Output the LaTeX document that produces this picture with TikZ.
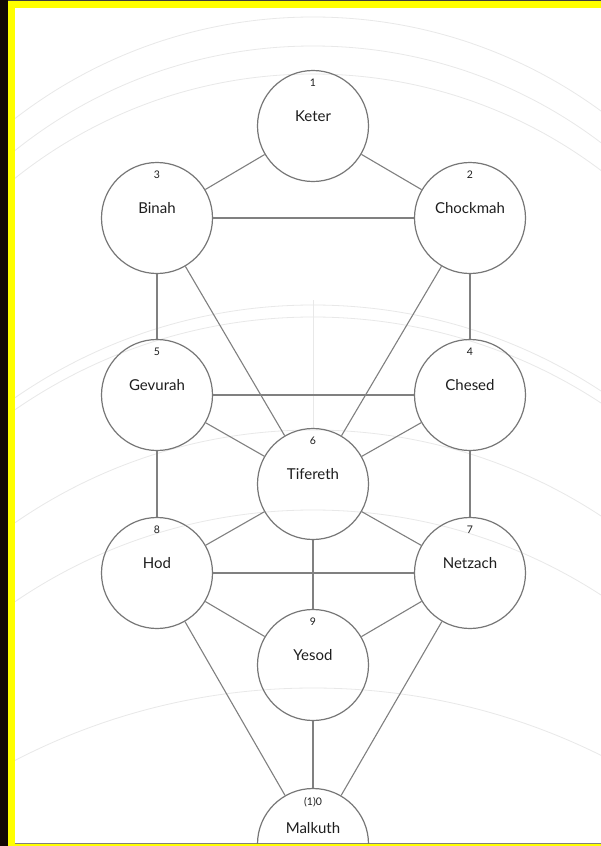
\documentclass[tikz,border=0pt]{standalone}
\usepackage{fontspec}
\setmainfont{Lato}
\definecolor{circ}{HTML}{777777}
\definecolor{edge}{HTML}{808080}
\definecolor{ink}{HTML}{1E1E1E}
\definecolor{frameyellow}{HTML}{FFFF00}
\definecolor{darkedge}{HTML}{120805}
\begin{document}
\begin{tikzpicture}[x=1pt,y=-1pt,
  sef/.style={circle,draw=circ,line width=1.2pt,minimum size=111pt,inner sep=0pt},
  conn/.style={draw=edge,line width=1.1pt},
  num/.style={font=\fontsize{10.5}{12}\selectfont,text=ink,inner sep=0pt},
  nm/.style={font=\fontsize{15}{17}\selectfont,text=ink,inner sep=0pt},
  bg/.style={draw=gray!18,line width=0.8pt}]
\useasboundingbox (0,0) rectangle (601,846);
% frame
\fill[darkedge] (0,0) rectangle (8,846);
\fill[frameyellow] (8,0) rectangle (601,846);
\fill[white] (15,7.5) rectangle (601,843);
\draw[black!75,line width=0.8pt] (8,0.4) -- (601,0.4);
\draw[gray,line width=1.2pt] (15,843.6) -- (601,843.6);
\begin{scope}
\clip (15,7.5) rectangle (601,843);
% faint background arcs
\draw[bg] (313,505) circle[radius=488];
\draw[bg] (313,523) circle[radius=477];
\draw[bg] (313,552) circle[radius=478];
\draw[bg] (313,830) circle[radius=525];
\draw[bg] (313,842) circle[radius=525];
\draw[bg] (313,955) circle[radius=525];
\draw[bg] (313,1040) circle[radius=530];
\draw[bg] (313,1336) circle[radius=648];
\draw[bg] (313,300) -- (313,428);
% sephirot
\node[sef] (keter)    at (313,126) {};
\node[sef] (binah)    at (157,218) {};
\node[sef] (chockmah) at (470,218) {};
\node[sef] (gevurah)  at (157,395) {};
\node[sef] (chesed)   at (470,395) {};
\node[sef] (tifereth) at (313,484) {};
\node[sef] (hod)      at (157,573) {};
\node[sef] (netzach)  at (470,573) {};
\node[sef] (yesod)    at (313,665) {};
\node[sef] (malkuth)  at (313,844) {};
% labels
\path (keter.center)    ++(0,-43) node[num] (n1) {1}  ++(0,33) node[nm] (t1) {Keter};
\path (binah.center)    ++(0,-43) node[num] (n3) {3}  ++(0,33) node[nm] (t3) {Binah};
\path (chockmah.center) ++(0,-43) node[num] (n2) {2}  ++(0,33) node[nm] (t2) {Chockmah};
\path (gevurah.center)  ++(0,-43) node[num] (n5) {5}  ++(0,33) node[nm] (t5) {Gevurah};
\path (chesed.center)   ++(0,-43) node[num] (n4) {4}  ++(0,33) node[nm] (t4) {Chesed};
\path (tifereth.center) ++(0,-43) node[num] (n6) {6}  ++(0,33) node[nm] (t6) {Tifereth};
\path (hod.center)      ++(0,-43) node[num] (n8) {8}  ++(0,33) node[nm] (t8) {Hod};
\path (netzach.center)  ++(0,-43) node[num] (n7) {7}  ++(0,33) node[nm] (t7) {Netzach};
\path (yesod.center)    ++(0,-43) node[num] (n9) {9}  ++(0,33) node[nm] (t9) {Yesod};
\path (malkuth.center)  ++(0,-42) node[num] (n0) {(1)0} ++(0,26) node[nm] (t0) {Malkuth};
% paths
\draw[conn] (keter) -- (binah);
\draw[conn] (keter) -- (chockmah);
\draw[conn] (binah) -- (chockmah);
\draw[conn] (binah) -- (gevurah);
\draw[conn] (chockmah) -- (chesed);
\draw[conn] (binah) -- (tifereth);
\draw[conn] (chockmah) -- (tifereth);
\draw[conn] (gevurah) -- (chesed);
\draw[conn] (gevurah) -- (tifereth);
\draw[conn] (chesed) -- (tifereth);
\draw[conn] (gevurah) -- (hod);
\draw[conn] (chesed) -- (netzach);
\draw[conn] (tifereth) -- (hod);
\draw[conn] (tifereth) -- (netzach);
\draw[conn] (tifereth) -- (yesod);
\draw[conn] (hod) -- (netzach);
\draw[conn] (hod) -- (yesod);
\draw[conn] (netzach) -- (yesod);
\draw[conn] (hod) -- (malkuth);
\draw[conn] (netzach) -- (malkuth);
\draw[conn] (yesod) -- (malkuth);
\end{scope}
\end{tikzpicture}
\end{document}
